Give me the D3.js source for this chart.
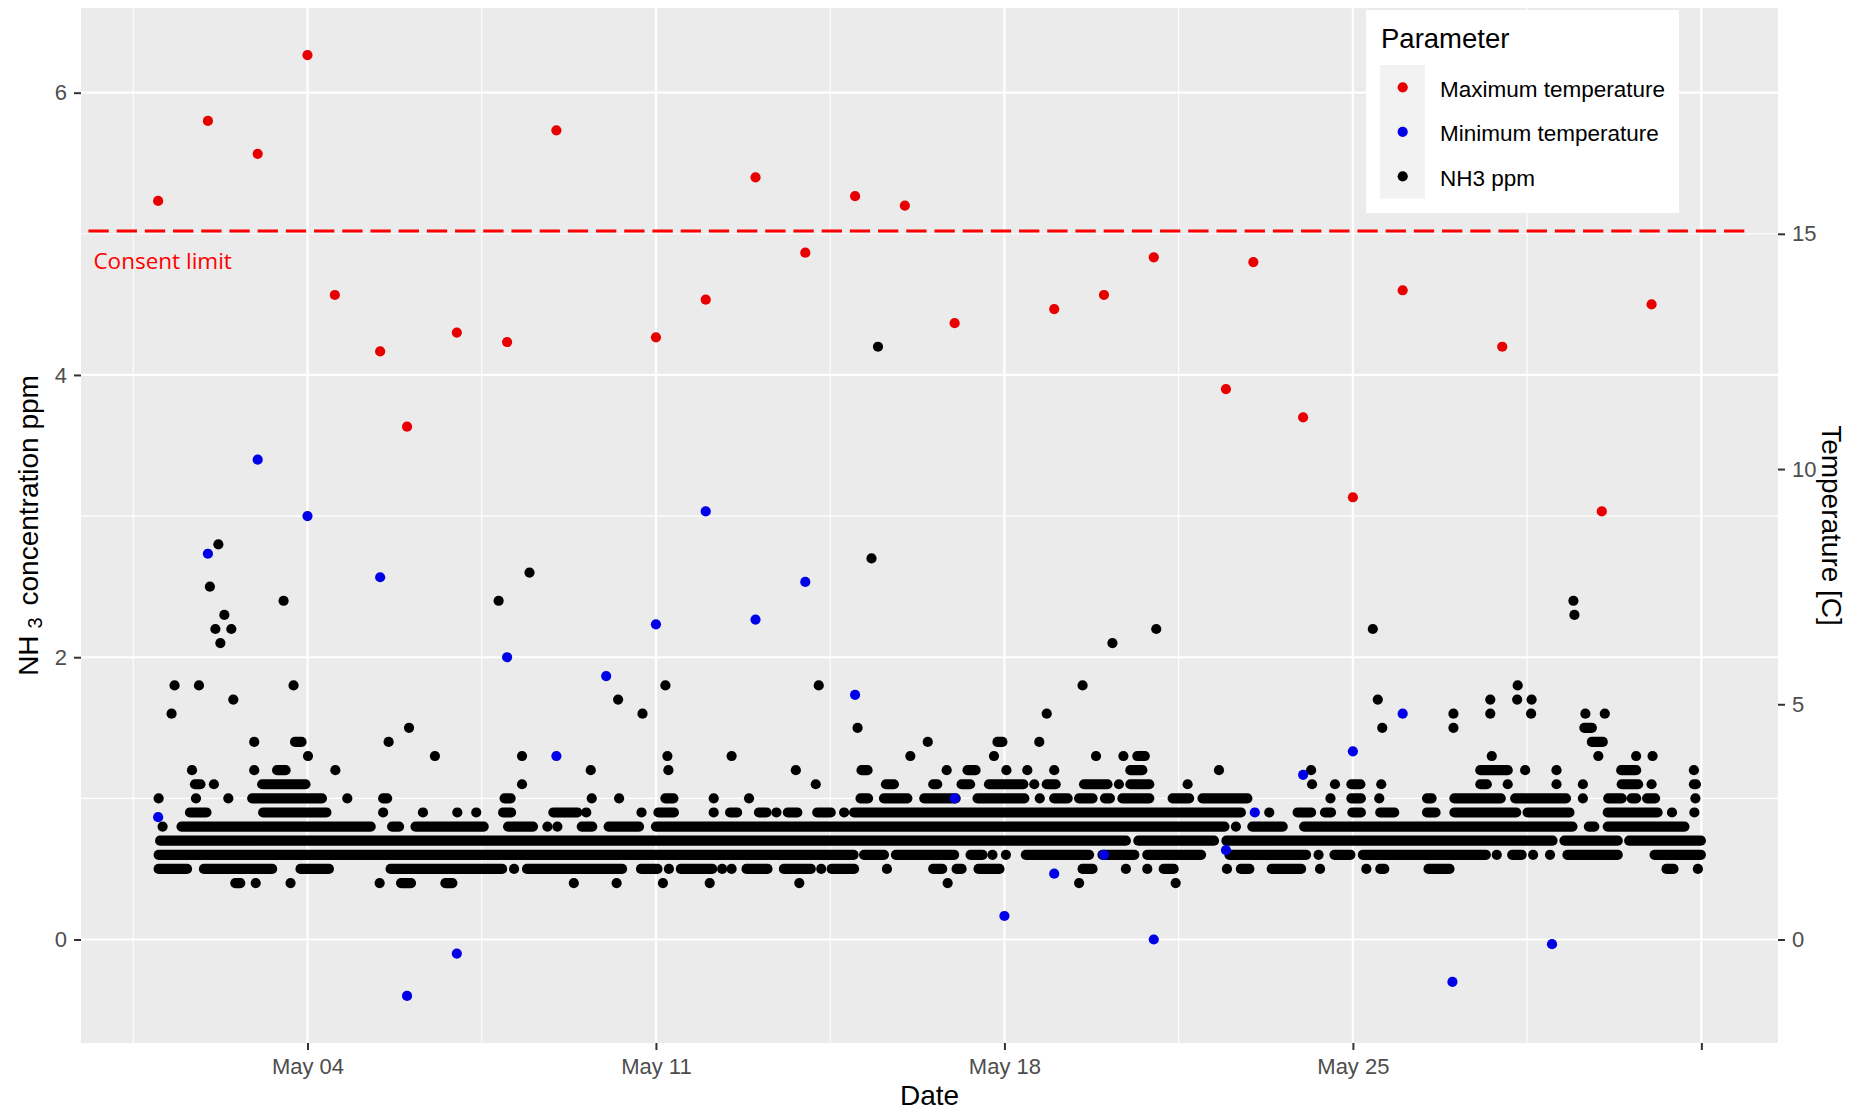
<!DOCTYPE html>
<html><head><meta charset="utf-8">
<script src="https://cdn.jsdelivr.net/npm/d3@7"></script>
<style>body{margin:0;background:#fff}</style>
</head><body><svg id="chart" width="1865" height="1112"></svg>
<script>
// ---------------- DATA (day-of-May; 1.0 = May 1 00:00) ----------------
const maxDays  = [1, 2, 3, 4, 4.55, 5.46, 6, 7, 8.01, 9, 11, 12, 13, 14, 15, 16, 17, 19, 20, 21, 22.45, 23, 24, 25, 26, 28, 30, 31];
const maxTemps = [15.7, 17.4, 16.7, 18.8, 13.7, 12.5, 10.9, 12.9, 12.7, 17.2, 12.8, 13.6, 16.2, 14.6, 15.8, 15.6, 13.1, 13.4, 13.7, 14.5, 11.7, 14.4, 11.1, 9.4, 13.8, 12.6, 9.1, 13.5];
const minDays  = [1, 2, 3, 4, 5.46, 6, 7, 8.01, 9, 10, 11, 12, 13, 14, 15, 17, 18, 19, 20, 21, 22.45, 23.03, 24, 25, 26, 27, 29];
const minTemps = [2.6, 8.2, 10.2, 9.0, 7.7, -1.2, -0.3, 6.0, 3.9, 5.6, 6.7, 9.1, 6.8, 7.6, 5.2, 3.0, 0.5, 1.4, 1.8, 0.0, 1.9, 2.7, 3.5, 4.0, 4.8, -0.9, -0.1];

// NH3 readings per ppm level: single times, or [from, to] spans of consecutive readings
const nh3_04 = [[2.55,2.65],2.96,3.66,5.45,[5.88,6.08],[6.77,6.91],9.35,10.21,11.14,12.08,13.88,16.86,19.50,21.44];
const nh3_05 = [[1.01,1.58],[1.92,3.29],[3.86,4.43],[5.67,7.91],8.15,[8.41,10.32],[10.70,11.03],11.26,[11.50,12.13],12.33,12.52,[12.82,13.24],[13.57,14.11],14.32,[14.53,14.98],15.64,[16.57,16.75],[17.04,17.14],[17.48,17.90],[19.57,19.77],20.44,20.87,[21.20,21.40],22.47,[22.75,22.92],[23.37,23.96],24.34,25.27,[25.55,25.63],[26.52,26.94],[31.30,31.44],31.93];
const nh3_06 = [[1.01,14.97],[15.18,15.58],[15.82,16.99],[17.32,17.56],17.76,18.03,[18.43,19.70],[19.97,20.61],[20.87,21.95],[22.52,24.06],24.31,[24.63,24.95],[25.20,27.67],27.89,[28.20,28.39],28.62,28.96,[29.31,30.32],[31.06,31.99]];
const nh3_07 = [[1.04,20.44],[20.69,22.21],[22.46,29.01],[29.25,30.32],[30.55,31.99]];
const nh3_08 = [1.09,[1.47,5.27],[5.70,5.84],[6.17,7.54],[8.03,8.53],8.82,9.02,[9.51,9.72],[10.05,10.66],[11.00,22.42],22.65,[22.98,23.59],[24.02,29.41],[29.74,29.85],[30.12,31.66]];
const nh3_09 = [[1.64,1.97],[3.11,4.38],5.52,6.32,7.01,7.39,[7.93,8.09],[8.94,9.42],9.60,10.71,[11.05,11.36],12.16,[12.49,12.63],[13.07,13.22],13.42,[13.65,13.84],[14.24,14.51],14.78,[14.98,22.75],23.32,[23.89,24.16],[24.44,24.56],[24.99,25.16],[25.55,25.83],[26.49,26.66],[27.04,28.28],[28.51,29.35],[30.12,31.12],31.41,31.86];
const nh3_10 = [1.01,1.76,2.41,[2.89,4.29],4.80,[5.52,5.60],[7.96,8.08],9.71,10.26,[11.19,11.35],12.16,12.87,[15.11,15.26],[15.58,16.05],[16.39,17.02],[17.46,18.40],18.71,[19.00,19.27],[19.50,19.77],[20.02,20.12],[20.37,20.91],[21.38,21.71],[21.98,22.88],24.55,[24.97,25.16],25.53,[26.49,26.58],[27.04,27.97],[28.26,29.28],29.62,[30.13,30.40],[30.60,30.69],[30.91,31.07],31.88];
const nh3_11 = [[1.74,1.85],2.12,[3.09,3.96],8.31,14.21,[15.62,15.78],[16.57,16.65],[17.14,17.31],[17.69,18.38],18.60,[18.85,19.03],[19.60,20.07],20.30,[20.53,20.91],21.68,24.18,24.64,[24.97,25.15],25.57,[27.56,27.69],28.11,29.09,29.62,[30.40,30.73],31.00,[31.85,31.89]];
const nh3_12 = [1.68,2.93,[3.39,3.56],4.56,9.69,11.25,13.81,[15.13,15.25],16.84,[17.26,17.42],18.04,18.46,19.00,[20.53,20.77],22.31,24.16,[27.56,28.11],28.46,29.09,[30.39,30.69],31.85];
const nh3_13 = [4.01,6.56,8.31,11.23,12.52,16.11,17.79,19.84,20.39,[20.67,20.82],27.79,29.93,30.69,31.02];
const nh3_14 = [2.93,[3.75,3.88],5.63,16.46,[17.86,17.96],18.70,[29.80,30.02]];
const nh3_15 = [6.04,15.05,25.59,27.02,[29.65,29.80]];
const nh3_16 = [1.27,10.73,18.85,27.02,27.76,28.58,29.67,30.06];
const nh3_17 = [2.51,10.24,25.50,27.76,28.30,28.59];
const nh3_18 = [1.33,1.82,3.72,11.19,14.27,19.57,28.31];
const nh3_21 = [2.25,20.17];
const nh3_22 = [2.15,2.47,21.05,25.40];
const nh3_23 = [2.33,29.45];
const nh3_24 = [3.52,7.84,29.43];
const nh3_25 = [2.04];
const nh3_26 = [8.46];
const nh3_27 = [15.33];
const nh3_28 = [2.21];
const nh3_42 = [15.46];

const nh3Rows = [[0.4,nh3_04],[0.5,nh3_05],[0.6,nh3_06],[0.7,nh3_07],[0.8,nh3_08],[0.9,nh3_09],[1.0,nh3_10],[1.1,nh3_11],[1.2,nh3_12],[1.3,nh3_13],[1.4,nh3_14],[1.5,nh3_15],[1.6,nh3_16],[1.7,nh3_17],[1.8,nh3_18],[2.1,nh3_21],[2.2,nh3_22],[2.3,nh3_23],[2.4,nh3_24],[2.5,nh3_25],[2.6,nh3_26],[2.7,nh3_27],[2.8,nh3_28],[4.2,nh3_42]];

const tempPerPpm = 3;              // secondary axis: Temperature = 3 * ppm
const consentLimit = 5.02;
const consentFrom = -0.4, consentTo = 33.02;

const xTickDays   = [4, 11, 18, 25, 32];
const xTickLabels = ["May 04", "May 11", "May 18", "May 25", ""];
const xMinorDays  = [0.5, 7.5, 14.5, 21.5, 28.5];
const yTicks      = [0, 2, 4, 6];
const yMinor      = [1, 3, 5];
const tempTicks   = [0, 5, 10, 15];

const legendItems = ["Maximum temperature", "Minimum temperature", "NH3 ppm"];
const seriesColors = ["#e80000", "#0000e8", "#000000"];

// ---------------- LAYOUT ----------------
const P = {l: 81, t: 8, r: 1778, b: 1043};
const R = 5.1;
const FONT = "'Liberation Sans', Arial, sans-serif";
const baseUTC = Date.UTC(2021, 4, 1);
const toDate = d => new Date(baseUTC + (d - 1) * 864e5);

const nh3Spans = nh3Rows.flatMap(([ppm, list]) => list.map(v => {
  const a = Array.isArray(v) ? v[0] : v;
  const b = Array.isArray(v) ? v[v.length - 1] : v;
  return {ppm, a, b};
}));

const allDays = [...maxDays, ...minDays, ...nh3Spans.map(s => s.a), ...nh3Spans.map(s => s.b)];
const dMin = d3.min(allDays), dMax = d3.max(allDays), dPad = (dMax - dMin) * 0.05;
const x = d3.scaleUtc().domain([toDate(dMin - dPad), toDate(dMax + dPad)]).range([P.l, P.r]);

const allPpm = [...maxTemps.map(t => t / tempPerPpm), ...minTemps.map(t => t / tempPerPpm), ...nh3Spans.map(s => s.ppm)];
const yMin = d3.min(allPpm), yMax = d3.max(allPpm), yPad = (yMax - yMin) * 0.05;
const y = d3.scaleLinear().domain([yMin - yPad, yMax + yPad]).range([P.b, P.t]);
const yT = d3.scaleLinear().domain(y.domain().map(v => v * tempPerPpm)).range([P.b, P.t]);

const svg = d3.select("#chart");
svg.append("rect").attr("width", 1865).attr("height", 1112).attr("fill", "#fff");

// panel
svg.append("rect").attr("x", P.l).attr("y", P.t).attr("width", P.r - P.l).attr("height", P.b - P.t).attr("fill", "#ebebeb");
svg.append("clipPath").attr("id", "clip").append("rect").attr("x", P.l).attr("y", P.t).attr("width", P.r - P.l).attr("height", P.b - P.t);
const g = svg.append("g").attr("clip-path", "url(#clip)");

// grid
g.selectAll(".hmin").data(yMinor).join("line").attr("x1", P.l).attr("x2", P.r).attr("y1", d => y(d)).attr("y2", d => y(d)).attr("stroke", "#fff").attr("stroke-width", 1.1);
g.selectAll(".vmin").data(xMinorDays).join("line").attr("y1", P.t).attr("y2", P.b).attr("x1", d => x(toDate(d))).attr("x2", d => x(toDate(d))).attr("stroke", "#fff").attr("stroke-width", 1.1);
g.selectAll(".hmaj").data(yTicks).join("line").attr("x1", P.l).attr("x2", P.r).attr("y1", d => y(d)).attr("y2", d => y(d)).attr("stroke", "#fff").attr("stroke-width", 2.2);
g.selectAll(".vmaj").data(xTickDays).join("line").attr("y1", P.t).attr("y2", P.b).attr("x1", d => x(toDate(d))).attr("x2", d => x(toDate(d))).attr("stroke", "#fff").attr("stroke-width", 2.2);

// NH3 readings
g.append("g").selectAll("rect").data(nh3Spans).join("rect")
  .attr("x", d => x(toDate(d.a)) - R)
  .attr("y", d => y(d.ppm) - R)
  .attr("width", d => x(toDate(d.b)) - x(toDate(d.a)) + 2 * R)
  .attr("height", 2 * R).attr("rx", R).attr("ry", R)
  .attr("fill", seriesColors[2]);

// temperatures
const minPts = minDays.map((d, i) => ({d, t: minTemps[i]}));
const maxPts = maxDays.map((d, i) => ({d, t: maxTemps[i]}));
g.append("g").selectAll("circle").data(minPts).join("circle")
  .attr("cx", p => x(toDate(p.d))).attr("cy", p => yT(p.t)).attr("r", R).attr("fill", seriesColors[1]);
g.append("g").selectAll("circle").data(maxPts).join("circle")
  .attr("cx", p => x(toDate(p.d))).attr("cy", p => yT(p.t)).attr("r", R).attr("fill", seriesColors[0]);

// consent limit
g.append("line").attr("x1", x(toDate(consentFrom))).attr("x2", x(toDate(consentTo)))
  .attr("y1", y(consentLimit)).attr("y2", y(consentLimit))
  .attr("stroke", "#ff0000").attr("stroke-width", 3).attr("stroke-dasharray", "20.3 7.9");
svg.append("text").attr("x", x(toDate(consentFrom)) + 5).attr("y", y(consentLimit) + 38)
  .attr("font-family", "'Open Sans', sans-serif").attr("font-size", 22.5).attr("fill", "#ff0000")
  .text("Consent limit");

// axes
function styleAxis(sel) {
  sel.select(".domain").remove();
  sel.selectAll(".tick line").attr("stroke", "#333").attr("stroke-width", 2);
  sel.selectAll(".tick text").attr("fill", "#4d4d4d").attr("font-size", 22).attr("font-family", FONT);
}
svg.append("g").attr("transform", `translate(0,${P.b})`)
  .call(d3.axisBottom(x).tickValues(xTickDays.map(toDate)).tickFormat((d, i) => xTickLabels[i]).tickSize(7).tickPadding(8))
  .call(styleAxis);
svg.append("g").attr("transform", `translate(${P.l},0)`)
  .call(d3.axisLeft(y).tickValues(yTicks).tickFormat(d3.format("d")).tickSize(7).tickPadding(7))
  .call(styleAxis);
svg.append("g").attr("transform", `translate(${P.r},0)`)
  .call(d3.axisRight(yT).tickValues(tempTicks).tickFormat(d3.format("d")).tickSize(7).tickPadding(7))
  .call(styleAxis);

// axis titles
svg.append("text").attr("x", (P.l + P.r) / 2).attr("y", 1105).attr("text-anchor", "middle")
  .attr("font-family", FONT).attr("font-size", 28).attr("fill", "#000").text("Date");
const yt = svg.append("text").attr("transform", `translate(38,${(P.t + P.b) / 2}) rotate(-90)`)
  .attr("text-anchor", "middle").attr("font-family", FONT).attr("font-size", 28).attr("fill", "#000");
yt.append("tspan").text("NH");
yt.append("tspan").attr("dx", 7).attr("dy", 4).attr("font-size", 20).text("3");
yt.append("tspan").attr("dx", 4).attr("dy", -4).text(" concentration ppm");
svg.append("text").attr("transform", `translate(1822,${(P.t + P.b) / 2}) rotate(90)`)
  .attr("text-anchor", "middle").attr("font-family", FONT).attr("font-size", 28).attr("fill", "#000")
  .text("Temperature [C]");

// legend
const lg = svg.append("g");
lg.append("rect").attr("x", 1366).attr("y", 10).attr("width", 313).attr("height", 203).attr("fill", "#fff");
lg.append("text").attr("x", 1381).attr("y", 48).attr("font-family", FONT).attr("font-size", 27.5).attr("fill", "#000").text("Parameter");
legendItems.forEach((name, i) => {
  const top = 65 + i * 44.5;
  lg.append("rect").attr("x", 1380).attr("y", top).attr("width", 45).attr("height", 44.5).attr("fill", "#f2f2f2");
  lg.append("circle").attr("cx", 1402.7).attr("cy", top + 22.3).attr("r", R).attr("fill", seriesColors[i]);
  lg.append("text").attr("x", 1440).attr("y", top + 31.5).attr("font-family", FONT).attr("font-size", 22.5).attr("fill", "#000").text(name);
});
</script></body></html>
